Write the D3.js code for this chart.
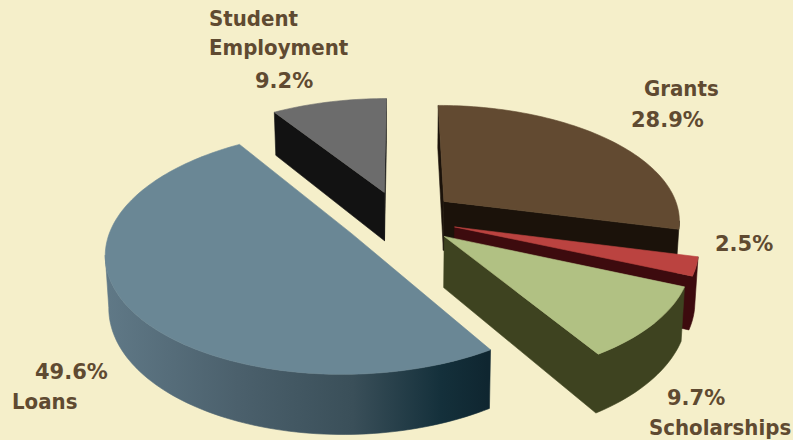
<!DOCTYPE html>
<html>
<head>
<meta charset="utf-8">
<script src="https://cdn.jsdelivr.net/npm/d3@7/dist/d3.min.js"></script>
<style>
html,body{margin:0;padding:0;background:#f5efca;}
svg{display:block;}
text{font-family:"DejaVu Sans Condensed","DejaVu Sans",sans-serif;font-weight:bold;font-size:22px;fill:#5f4a31;}
text.share{font-family:"DejaVu Sans",sans-serif;font-size:21px;}
</style>
</head>
<body>
<svg id="chart" width="793" height="440"></svg>
<script>
// Funding sources, clockwise from twelve o'clock
const categories = ["Grants", "Other", "Scholarships", "Loans", "Student Employment"];
const shares = [28.9, 2.5, 9.7, 49.6, 9.2];
const shareLabels = ["28.9%", "2.5%", "9.7%", "49.6%", "9.2%"];

const topColors = ["#624a31", "#bb4340", "#b1c183", "#6a8795", "#6c6c6c"];
const wallColors = ["#1b120a", "#3d0b0e", "#3e4320", "url(#loanWall)", "#121212"];
const drawOrder = [4, 0, 3, 1, 2];

const W = 793, H = 440;
const svg = d3.select("#chart");
svg.append("rect").attr("width", W).attr("height", H).attr("fill", "#f5efca");

// Tilted ground plane with a mild perspective; verticals converge towards the floor
const persp = 0.15, wallDepth = 50, explode = 0.24, floorShrink = 0.012;
const px = d3.scaleLinear().domain([-1, 1]).range([163, 637]);
const py = d3.scaleLinear().domain([-1, 1]).range([103, 333]);
function project(X, Y, z) {
  const w = 1 / (1 - persp * Y);
  const shrink = 1 - floorShrink * z / wallDepth;
  return [px(0) + (px(X) - px(0)) * w * shrink, py(0) + (py(Y) - py(0)) * w + z * w];
}

const arcs = d3.pie().sort(null).value(d => d)(shares);
const line = d3.line().curve(d3.curveLinear);

const defs = svg.append("defs");
const grad = defs.append("linearGradient").attr("id", "loanWall")
  .attr("gradientUnits", "userSpaceOnUse")
  .attr("x1", 104).attr("x2", 487).attr("y1", 0).attr("y2", 0);
[[0, "#607987"], [0.35, "#4b606c"], [0.65, "#3a4f59"], [0.88, "#14303b"], [1, "#0f2630"]]
  .forEach(s => grad.append("stop").attr("offset", s[0]).attr("stop-color", s[1]));

drawOrder.forEach(i => {
  const a = arcs[i];
  const mid = (a.startAngle + a.endAngle) / 2;
  const ox = explode * Math.sin(mid), oy = -explode * Math.cos(mid);
  // Outline in plane coordinates: apex, then along the rim
  const steps = Math.max(8, Math.round((a.endAngle - a.startAngle) * 40));
  const rim = d3.range(steps + 1).map(k => a.startAngle + (a.endAngle - a.startAngle) * k / steps);
  const outline = [[ox, oy]].concat(rim.map(t => [ox + Math.sin(t), oy - Math.cos(t)]));
  const topPts = outline.map(p => project(p[0], p[1], 0));
  const lowPts = outline.map(p => project(p[0], p[1], wallDepth));
  const n = topPts.length;
  const g = svg.append("g").attr("class", "slice").attr("data-name", categories[i]);

  // A wall shows when its top edge runs leftwards on screen
  let run = [];
  const flush = () => {
    if (run.length > 1) {
      const poly = run.map(k => topPts[k]).concat(run.slice().reverse().map(k => lowPts[k]));
      g.append("path").attr("d", line(poly) + "Z")
        .attr("fill", wallColors[i]).attr("stroke", wallColors[i]).attr("stroke-width", 0.6);
    }
    run = [];
  };
  for (let k = 0; k < n; k++) {
    const next = (k + 1) % n;
    if (topPts[next][0] < topPts[k][0]) {
      if (!run.length) run.push(k);
      if (next === 0) { run.push(0); flush(); } else run.push(next);
    } else flush();
  }
  flush();

  g.append("path").attr("d", line(topPts) + "Z").attr("fill", topColors[i])
    .attr("stroke", topColors[i]).attr("stroke-width", 0.6);
});

// Category and share labels
const labels = svg.append("g");
function put(str, x, y, cls) {
  labels.append("text").attr("class", cls || "name").attr("x", x).attr("y", y).text(str);
}
put("Student", 209, 26);
put("Employment", 209, 55);
put(shareLabels[4], 255, 88, "share");
put(categories[0], 644, 96);
put(shareLabels[0], 631, 127, "share");
put(shareLabels[1], 715, 251, "share");
put(shareLabels[3], 35, 379, "share");
put(categories[3], 12, 409);
put(shareLabels[2], 667, 405, "share");
put(categories[2], 649, 435);
</script>
</body>
</html>
